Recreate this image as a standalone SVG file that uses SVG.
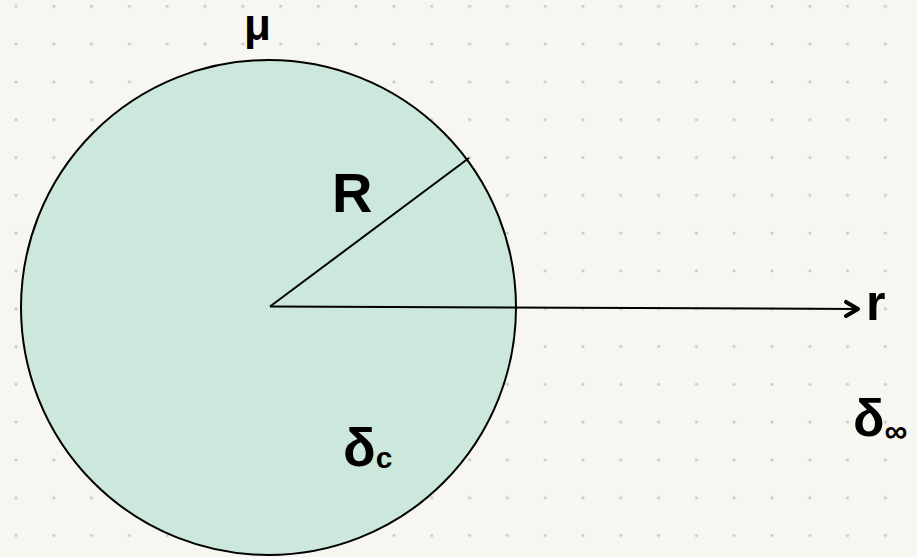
<svg xmlns="http://www.w3.org/2000/svg" width="917" height="557" viewBox="0 0 917 557">
<defs>
<pattern id="dots" x="16" y="6.3" width="37.8" height="37.8" patternUnits="userSpaceOnUse">
<circle cx="0" cy="0" r="1.6" fill="#c9c8c5"/>
<circle cx="37.8" cy="0" r="1.6" fill="#c9c8c5"/>
<circle cx="0" cy="37.8" r="1.6" fill="#c9c8c5"/>
<circle cx="37.8" cy="37.8" r="1.6" fill="#c9c8c5"/>
</pattern>
<marker id="chev" viewBox="0 0 20 20" refX="17" refY="10" markerWidth="20" markerHeight="20" markerUnits="userSpaceOnUse" orient="auto">
<path d="M5,3 L17,10 L5,17" fill="none" stroke="#000" stroke-width="4" stroke-linecap="round" stroke-linejoin="round"/>
</marker>
<style>
.lbl{font-family:"Liberation Sans","DejaVu Sans",sans-serif;fill:#000;font-weight:bold}
.edge{stroke:#000;stroke-width:2;fill:none}
</style>
</defs>
<rect width="917" height="557" fill="#f8f6f1"/>
<rect width="917" height="557" fill="url(#dots)"/>
<g id="sphere">
<circle cx="268.5" cy="307.5" r="247.5" fill="#cce7dc" stroke="#000" stroke-width="2"/>
</g>
<g id="connectors">
<line class="edge" x1="270" y1="306.5" x2="469" y2="158"/>
<line class="edge" x1="270" y1="306.5" x2="858" y2="309" marker-end="url(#chev)"/>
</g>
<g id="labels">
<text class="lbl" x="244" y="40" font-size="44">μ</text>
<text class="lbl" x="332" y="212" font-size="56">R</text>
<text class="lbl" x="343" y="466" font-size="54">δ<tspan font-size="30" dy="2">c</tspan></text>
<text class="lbl" x="866" y="320" font-size="50">r</text>
<text class="lbl" x="853" y="436" font-size="52">δ<tspan font-size="32" dy="6">∞</tspan></text>
</g>
</svg>
